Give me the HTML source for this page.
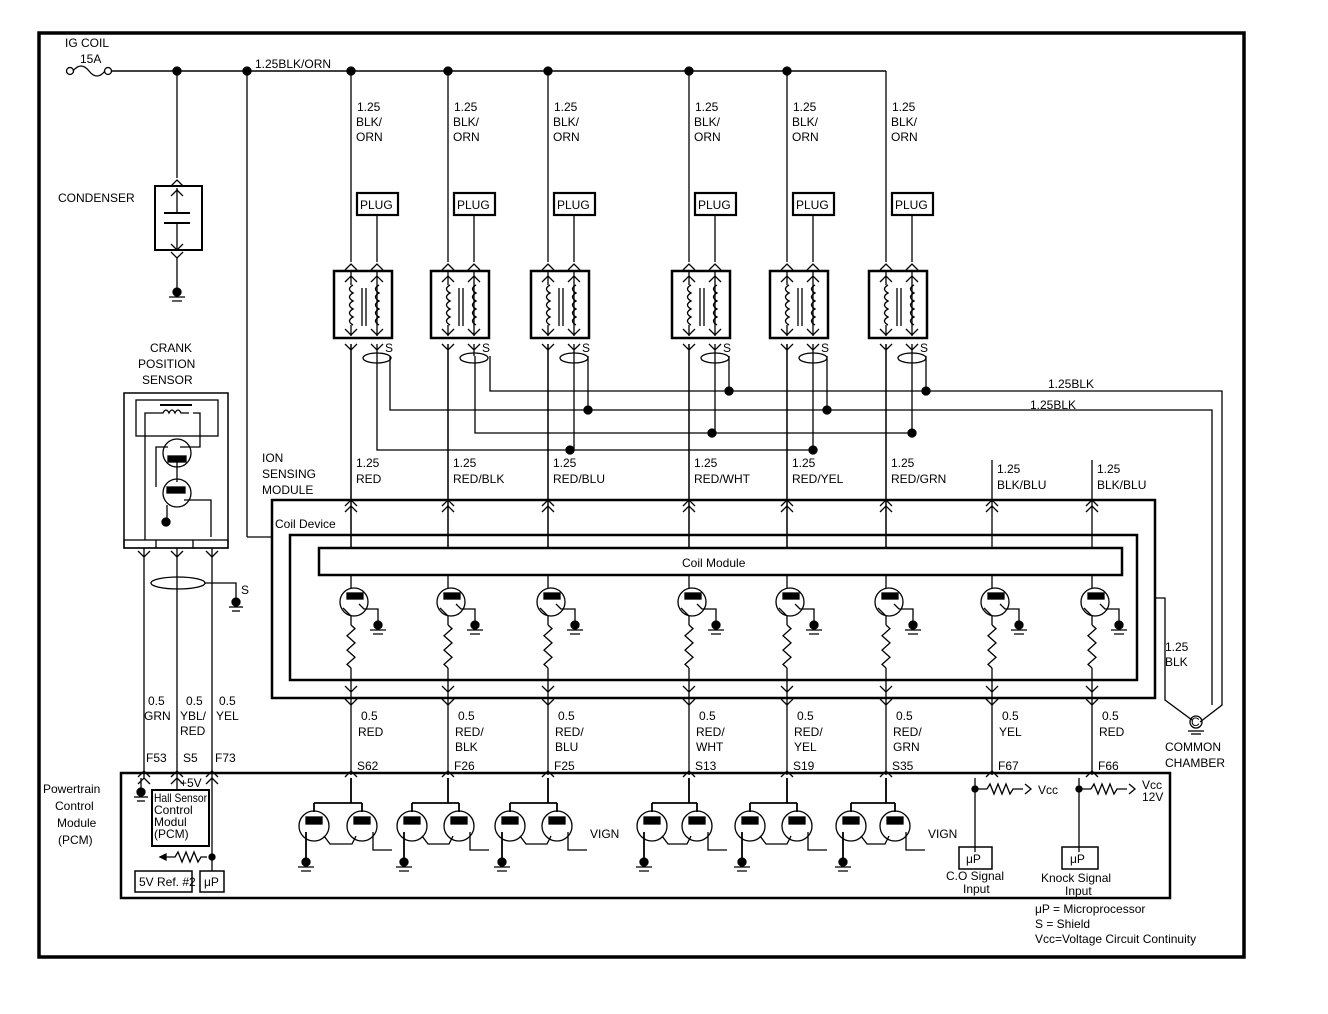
<!DOCTYPE html>
<html><head><meta charset="utf-8"><style>
html,body{margin:0;padding:0;background:#fff;}
svg{display:block;}
text{font-family:"Liberation Sans",Arial,sans-serif;font-size:12px;fill:#000;}
</style></head><body>
<svg id="s" width="1328" height="1014" viewBox="0 0 1328 1014" xmlns="http://www.w3.org/2000/svg" stroke="#000" fill="none" stroke-width="1.3">
<rect x="39" y="33" width="1205" height="924" stroke-width="3.5"/>
<text x="65" y="47" stroke="none">IG COIL</text>
<text x="80" y="63" stroke="none" font-size="11">15A</text>
<circle cx="70" cy="71" r="3.5"/><circle cx="108" cy="71" r="3.5"/>
<path d="M73 71 q8 -10 16 0 q8 10 16 0"/>
<line x1="111" y1="71" x2="886" y2="71" stroke-width="1.6"/>
<text x="255" y="68" stroke="none">1.25BLK/ORN</text>
<line x1="177" y1="71" x2="177" y2="178"/>
<text x="58" y="202" stroke="none" font-size="14">CONDENSER</text>
<rect x="155" y="186" width="47" height="64" stroke-width="2"/>
<line x1="177" y1="188" x2="177" y2="213"/><line x1="164" y1="213" x2="190" y2="213" stroke-width="2"/>
<line x1="164" y1="223" x2="190" y2="223" stroke-width="2"/><line x1="177" y1="223" x2="177" y2="250"/>
<line x1="177" y1="258" x2="177" y2="296"/>
<line x1="247" y1="71" x2="247" y2="537"/><line x1="247" y1="537" x2="272" y2="537"/>
<text x="262" y="462" stroke="none" font-size="14">ION</text>
<text x="262" y="478" stroke="none" font-size="14">SENSING</text>
<text x="262" y="494" stroke="none" font-size="14">MODULE</text>
<path d="M490 356 V391 H1222 V705 L1200 722"/>
<path d="M390 356 V410 H1212 V705"/>
<path d="M475 356 V433 H912"/>
<path d="M377 356 V450 H813"/>
<text x="1048" y="388" stroke="none">1.25BLK</text>
<text x="1030" y="409" stroke="none">1.25BLK</text>
<path d="M1155 598 H1165 V700 L1192 720"/>
<text x="1165" y="651" stroke="none">1.25</text>
<text x="1165" y="666" stroke="none">BLK</text>
<circle cx="1196" cy="722" r="6"/><text x="1191" y="726" stroke="none" font-size="10">C</text>
<line x1="1188" y1="731" x2="1204" y2="731"/><line x1="1191" y1="734" x2="1201" y2="734"/>
<text x="1165" y="751" stroke="none">COMMON</text>
<text x="1165" y="767" stroke="none">CHAMBER</text>
<rect x="272" y="500" width="883" height="198" stroke-width="2.5"/>
<rect x="290" y="535" width="847" height="145" stroke-width="2.5"/>
<text x="275" y="528" stroke="none">Coil Device</text>
<rect x="319" y="548" width="803" height="27" stroke-width="2.5"/>
<text x="682" y="567" stroke="none">Coil Module</text>
<text x="150" y="352" stroke="none" font-size="14">CRANK</text>
<text x="138" y="368" stroke="none" font-size="14">POSITION</text>
<text x="142" y="384" stroke="none" font-size="14">SENSOR</text>
<rect x="124" y="393" width="104" height="155" stroke-width="1.5"/>
<rect x="136" y="400" width="82" height="36"/>
<line x1="160" y1="405" x2="192" y2="405" stroke-width="2"/>
<path d="M155 413 h8 q3 -6 6 0 q3 -6 6 0 q3 -6 6 0 h8 v0"/>
<path d="M155 413 h-10 v127"/><path d="M193 413 h7 v34 h-20"/>
<circle cx="177" cy="453" r="14"/><rect x="168" y="456" width="18" height="6" fill="#000"/>
<path d="M168 447 h-12 v40 M177 462 v20"/>
<circle cx="177" cy="493" r="14"/><rect x="167" y="487" width="18" height="6" fill="#000"/>
<path d="M184 500 h27 v37"/><line x1="167" y1="505" x2="167" y2="520"/>
<circle cx="166" cy="522" r="4" fill="#000"/>
<rect x="124" y="540" width="104" height="8"/>
<line x1="156" y1="540" x2="156" y2="548"/><line x1="193" y1="540" x2="193" y2="548"/>
<ellipse cx="178" cy="583" rx="27" ry="6"/>
<path d="M205 583 H236 V600"/><circle cx="236" cy="602" r="4" fill="#000"/>
<line x1="229" y1="607" x2="243" y2="607"/><line x1="232" y1="611" x2="240" y2="611"/>
<text x="241" y="594" stroke="none">S</text>
<text x="148" y="705" stroke="none">0.5</text><text x="144" y="720" stroke="none">GRN</text>
<text x="186" y="705" stroke="none">0.5</text><text x="180" y="720" stroke="none">YBL/</text><text x="180" y="735" stroke="none">RED</text>
<text x="219" y="705" stroke="none">0.5</text><text x="216" y="720" stroke="none">YEL</text>
<text x="146" y="762" stroke="none">F53</text><text x="183" y="762" stroke="none">S5</text><text x="215" y="762" stroke="none">F73</text>
<rect x="121" y="773" width="1049" height="125" stroke-width="2.5"/>
<text x="43" y="793" stroke="none">Powertrain</text>
<text x="55" y="810" stroke="none">Control</text>
<text x="57" y="827" stroke="none">Module</text>
<text x="58" y="844" stroke="none">(PCM)</text>
<line x1="141" y1="778" x2="141" y2="790"/><circle cx="141" cy="792" r="4" fill="#000"/>
<line x1="134" y1="797" x2="148" y2="797"/><line x1="137" y1="801" x2="145" y2="801"/>
<rect x="152" y="790" width="57" height="56" stroke-width="2"/>
<text x="154" y="802" stroke="none" font-size="10" textLength="53" lengthAdjust="spacingAndGlyphs">Hall Sensor</text>
<text x="154" y="814" stroke="none" font-size="10">Control</text>
<text x="154" y="826" stroke="none" font-size="10">Modul</text>
<text x="154" y="838" stroke="none" font-size="10">(PCM)</text>
<text x="180" y="787" stroke="none" font-size="11">+5V</text>
<line x1="177" y1="778" x2="177" y2="790"/>
<line x1="212" y1="778" x2="212" y2="871"/><circle cx="212" cy="857" r="3" fill="#000"/>
<path d="M165 857 h10 l3 -5 l4 10 l4 -10 l4 10 l4 -10 l4 10 l3 -5 h6"/>
<path d="M160 857 l6 -3 v6 z" fill="#000"/>
<rect x="135" y="871" width="57" height="21" stroke-width="1.5"/><text x="139" y="886" stroke="none" font-size="10">5V Ref. #2</text>
<rect x="200" y="871" width="24" height="21" stroke-width="1.5"/><text x="204" y="886" stroke="none" font-size="11">μP</text>
<path d="M975 778 V852 M975 789 h12"/>
<circle cx="975" cy="789" r="3" fill="#000"/>
<path d="M987 789 l3 -5 l4 10 l4 -10 l4 10 l4 -10 l4 10 l3 -5 h10 M1025 784 l6 5 l-6 5"/>
<text x="1038" y="794" stroke="none" font-size="11">Vcc</text>
<rect x="959" y="847" width="33" height="22" stroke-width="1.5"/><text x="966" y="863" stroke="none">μP</text>
<text x="946" y="880" stroke="none">C.O Signal</text><text x="963" y="893" stroke="none">Input</text>
<path d="M1079 778 V852 M1079 789 h12"/>
<circle cx="1079" cy="789" r="3" fill="#000"/>
<path d="M1091 789 l3 -5 l4 10 l4 -10 l4 10 l4 -10 l4 10 l3 -5 h10 M1129 784 l6 5 l-6 5"/>
<text x="1142" y="789" stroke="none" font-size="10">Vcc</text><text x="1142" y="801" stroke="none" font-size="10">12V</text>
<rect x="1062" y="847" width="36" height="22" stroke-width="1.5"/><text x="1070" y="863" stroke="none">μP</text>
<text x="1041" y="882" stroke="none">Knock Signal</text><text x="1065" y="895" stroke="none">Input</text>
<text x="1035" y="913" stroke="none" font-size="11">μP = Microprocessor</text>
<text x="1035" y="928" stroke="none" font-size="11">S = Shield</text>
<text x="1035" y="943" stroke="none" font-size="11">Vcc=Voltage Circuit Continuity</text>
<text x="590" y="838" stroke="none" font-size="11">VIGN</text>
<text x="928" y="838" stroke="none" font-size="11">VIGN</text>
<g id="gen"></g>
</svg>
<script>
var NS="http://www.w3.org/2000/svg",g=document.getElementById("gen");
function el(t,a,txt){var e=document.createElementNS(NS,t);for(var k in a)e.setAttribute(k,a[k]);if(txt!==undefined){e.textContent=txt;e.setAttribute("stroke","none");e.setAttribute("fill","#000");}g.appendChild(e);return e;}
function P(d,w){return el("path",{d:d,"stroke-width":w||1.3});}
function dot(x,y){el("circle",{cx:x,cy:y,r:4,fill:"#000"});}
function up(x,y){P("M"+(x-6)+" "+(y+6)+" L"+x+" "+y+" L"+(x+6)+" "+(y+6));}
function dn(x,y){P("M"+(x-6)+" "+(y-6)+" L"+x+" "+y+" L"+(x+6)+" "+(y-6));}
function gnd(x,y){dot(x,y);P("M"+(x-8)+" "+(y+5)+"h16 M"+(x-5)+" "+(y+9)+"h10");}
function zig(x,y1,y2){var d="M"+x+" "+y1,n=6,h=(y2-y1)/n;for(var i=0;i<n;i++)d+=" L"+(x+(i%2?-4:4))+" "+(y1+h*(i+.5));d+=" L"+x+" "+y2;P(d);}
function coil(x,y){var d="M"+x+" "+y;for(var i=0;i<5;i++)d+=" q-7 4 0 8";P(d);}
[177,247,351,448,548,689,787].forEach(function(x){dot(x,71);});
up(177,180);dn(177,258);up(177,190);dn(177,250);gnd(177,292);
var cols=[351,448,548,689,787,886];
cols.forEach(function(px){
 var sx=px+26;
 el("text",{x:px+6,y:111},"1.25");el("text",{x:px+5,y:126},"BLK/");el("text",{x:px+5,y:141},"ORN");
 P("M"+px+" 71 V262");
 el("rect",{x:sx-20,y:193,width:41,height:22,"stroke-width":2.2});
 el("text",{x:sx-17,y:209,"font-size":"12"},"PLUG");
 P("M"+sx+" 215 V262");
 up(px,264);up(sx,264);
 el("rect",{x:px-17,y:271,width:58,height:67,"stroke-width":2.5});
 P("M"+px+" 272 V336 M"+sx+" 272 V336");
 up(px,276);up(sx,276);dn(px,335);dn(sx,335);
 el("rect",{x:px-6,y:285,width:26,height:40,fill:"#fff",stroke:"none"});
 coil(px+2,285);coil(sx+2,285);
 P("M"+(px+11)+" 288 V326 M"+(px+15)+" 288 V326");
 dn(px,350);dn(sx,350);
 P("M"+px+" 344 V548");
 P("M"+sx+" 344 V356");
 el("ellipse",{cx:sx,cy:358,rx:14,ry:5});
 el("text",{x:sx+8,y:352},"S");
});
[[588,410],[570,450],[729,391],[712,433],[827,410],[813,450],[926,391],[912,433]].forEach(function(a){dot(a[0],a[1]);});
P("M574 356 V450");P("M588 356 V410");P("M715 356 V433");P("M729 356 V391");
P("M813 356 V450");P("M827 356 V410");P("M912 356 V433");P("M926 356 V391");
var mc=[351,448,548,689,787,886,992,1092];
var tl=["RED","RED/BLK","RED/BLU","RED/WHT","RED/YEL","RED/GRN","BLK/BLU","BLK/BLU"];
var bl=[["RED"],["RED/","BLK"],["RED/","BLU"],["RED/","WHT"],["RED/","YEL"],["RED/","GRN"],["YEL"],["RED"]];
var cn=["S62","F26","F25","S13","S19","S35","F67","F66"];
mc.forEach(function(x,i){
 var ty=i>5?473:467;
 el("text",{x:x+5,y:ty},"1.25");el("text",{x:x+5,y:ty+16},tl[i]);
 P("M"+x+" "+(i>5?460:344)+" V548");
 up(x,500);up(x,506);
 P("M"+x+" 575 V588");
 el("circle",{cx:x+3,cy:602,r:14});
 el("rect",{x:x-4,y:593,width:16,height:6,fill:"#000"});
 P("M"+(x+8)+" 604 l5 5 H"+(x+27)+" V622");gnd(x+27,625);
 P("M"+(x-8)+" 608 L"+x+" 616 V625");zig(x,625,668);P("M"+x+" 668 V775");
 dn(x,692);dn(x,705);
 el("text",{x:x+10,y:720},"0.5");
 bl[i].forEach(function(t,j){el("text",{x:x+7,y:736+15*j},t);});
 up(x,771);el("text",{x:x+6,y:770},cn[i]);
});
[144,177,212].forEach(function(x){P("M"+x+" 548 V778");dn(x,557);up(x,771);up(x,778);});
var pairs=[[314,362,351],[412,459,448],[510,557,548],[652,697,689],[750,797,787],[851,895,886]];
pairs.forEach(function(p,i){
 P("M"+p[2]+" 778 V803 M"+p[0]+" 803 H"+p[1]+" M"+p[0]+" 803 V812 M"+p[1]+" 803 V812",1.8);
 [p[0],p[1]].forEach(function(c){el("circle",{cx:c,cy:826,r:15});el("rect",{x:c-8,y:817,width:16,height:7,fill:"#000"});});
 P("M"+(p[0]-8)+" 832 V862",1.8);gnd(p[0]-8,862);
 P("M"+(p[0]+10)+" 836 l6 8 H"+(p[1]-10)+" l4 -8");
 P("M"+(p[1]+11)+" 832 V850 H"+(p[1]+30));
});
</script>
</body></html>
